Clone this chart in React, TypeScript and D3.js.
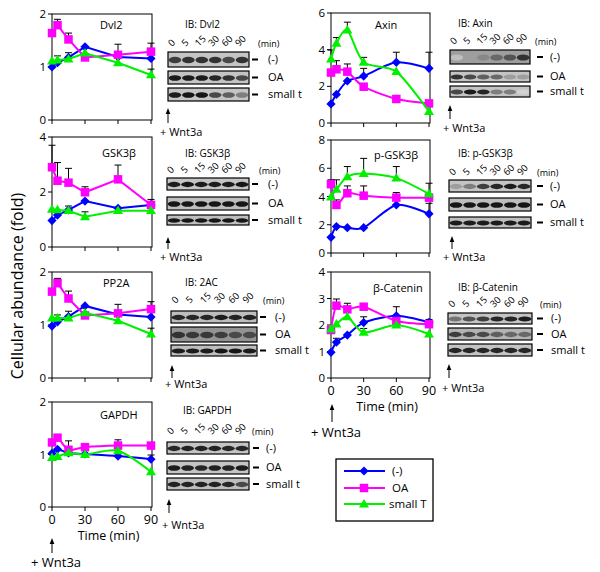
import * as d3 from "d3";

const times = [0, 5, 15, 30, 60, 90];
const xTicks = [0, 30, 60, 90];
const laneLabels = ["0", "5", "15", "30", "60", "90"];
const seriesNames = ["(-)", "OA", "small T"];
const seriesColors = ["#0000ff", "#ff00ff", "#00f000"];
const blotRowLabels = ["(-)", "OA", "small t"];

const ticks2 = [0, 1, 2];
const ticks4by2 = [0, 2, 4];
const ticks6 = [0, 2, 4, 6];
const ticks8 = [0, 2, 4, 6, 8];
const ticks4 = [0, 1, 2, 3, 4];

// rows: (-), OA, small t ; columns: times
const dvl2Values = [
  [1.0, 1.08, 1.18, 1.38, 1.19, 1.16],
  [1.64, 1.79, 1.52, 1.18, 1.23, 1.29],
  [1.11, 1.13, 1.15, 1.26, 1.08, 0.85],
];
const dvl2Errors = [
  [null, 1.21, null, null, null, null],
  [null, 1.9, 1.64, null, 1.43, 1.45],
  [null, null, 1.27, null, null, 0.96],
];
const gskValues = [
  [0.96, 1.16, 1.35, 1.67, 1.41, 1.53],
  [2.9, 2.41, 2.34, 1.99, 2.46, 1.53],
  [1.37, 1.35, 1.32, 1.1, 1.32, 1.32],
];
const gskErrors = [
  [null, null, 1.49, null, null, 1.73],
  [3.7, 3.07, 2.86, 2.19, 2.98, null],
  [null, null, null, 1.28, null, null],
];
const pp2aValues = [
  [0.98, 1.06, 1.16, 1.36, 1.2, 1.15],
  [1.63, 1.79, 1.5, 1.18, 1.22, 1.3],
  [1.13, 1.13, 1.13, 1.23, 1.08, 0.83],
];
const pp2aErrors = [
  [null, 1.19, null, null, null, null],
  [null, 1.88, 1.64, null, 1.39, 1.44],
  [null, null, 1.26, null, null, 0.94],
];
const gapdhValues = [
  [1.02, 1.1, 1.03, 1.01, 0.97, 0.91],
  [1.23, 1.32, 1.09, 1.14, 1.17, 1.17],
  [0.94, 0.96, 1.03, 1.0, 1.07, 0.67],
];
const gapdhErrors = [
  [null, null, null, null, null, 0.99],
  [null, null, 1.26, null, 1.28, null],
  [null, null, null, null, null, null],
];
const axinValues = [
  [1.04, 1.56, 2.29, 2.56, 3.31, 2.98],
  [2.75, 2.93, 2.8, 1.98, 1.31, 1.07],
  [3.49, 4.35, 5.07, 3.31, 2.8, 0.62],
];
const axinErrors = [
  [null, null, null, 2.98, 3.86, 3.86],
  [null, 3.4, 3.22, null, null, null],
  [3.98, 4.66, 5.5, 3.58, null, 0.9],
];
const pgskValues = [
  [1.11, 1.87, 1.79, 1.79, 3.4, 2.77],
  [4.87, 3.4, 4.23, 4.06, 3.92, 3.92],
  [3.95, 4.5, 5.4, 5.63, 5.3, 4.18],
];
const pgskErrors = [
  [null, null, null, null, 4.28, 3.52],
  [5.18, 3.76, 4.75, 4.75, null, null],
  [null, 5.18, 6.12, 6.7, 6.12, 4.94],
];
const bcatValues = [
  [0.97, 1.35, 1.62, 2.09, 2.35, 2.1],
  [1.81, 2.73, 2.59, 2.69, 2.15, 2.03],
  [1.85, 2.03, 2.31, 1.72, 2.0, 1.66],
];
const bcatErrors = [
  [null, 1.5, null, 2.31, 2.69, 2.21],
  [null, 2.98, 2.82, null, null, null],
  [null, null, null, 1.87, null, null],
];

// band darkness per lane (0 = none, 1 = black)
const dvl2Bands = [
  [0.75, 0.8, 0.8, 0.8, 0.7, 0.8],
  [0.9, 0.9, 0.9, 0.85, 0.8, 0.7],
  [0.9, 0.95, 0.95, 0.7, 0.6, 0.45],
];
const gskBands = [
  [0.9, 0.92, 0.9, 0.9, 0.9, 0.92],
  [0.92, 0.92, 0.92, 0.92, 0.92, 0.92],
  [0.92, 0.92, 0.92, 0.92, 0.92, 0.92],
];
const pp2aBands = [
  [0.85, 0.85, 0.85, 0.9, 0.88, 0.88],
  [0.8, 0.78, 0.78, 0.75, 0.7, 0.7],
  [0.9, 0.9, 0.9, 0.92, 0.92, 0.9],
];
const gapdhBands = [
  [0.85, 0.88, 0.88, 0.88, 0.85, 0.85],
  [0.9, 0.88, 0.85, 0.88, 0.88, 0.9],
  [0.88, 0.88, 0.88, 0.88, 0.85, 0.7],
];
const axinBands = [
  [0.15, 0.3, 0.4, 0.55, 0.65, 0.8],
  [0.8, 0.7, 0.6, 0.55, 0.3, 0.3],
  [0.7, 0.9, 0.85, 0.45, 0.45, 0.05],
];
const pgskBands = [
  [0.3, 0.45, 0.75, 0.85, 0.9, 0.85],
  [0.92, 0.92, 0.92, 0.92, 0.92, 0.92],
  [0.9, 0.9, 0.9, 0.9, 0.9, 0.9],
];
const bcatBands = [
  [0.5, 0.65, 0.75, 0.85, 0.85, 0.9],
  [0.75, 0.7, 0.7, 0.6, 0.55, 0.55],
  [0.85, 0.85, 0.85, 0.85, 0.85, 0.85],
];

const FONT = "'Open Sans', 'DejaVu Sans', sans-serif";

type BlotLayout = {
  ib: string;
  bands: number[][];
  bg: number[];
  x0: number;
  x1: number;
  rows: [number, number][];
  ibX: number;
  ibY: number;
  laneY: number;
  minX: number;
  dashX: number;
  labelX: number;
  arrowX: number;
  arrowY: [number, number];
  wntX: number;
  wntY: number;
};

type Panel = {
  title: string;
  values: number[][];
  errors: (number | null)[][];
  yMax: number;
  yTicks: number[];
  x0: number;
  x1: number;
  y0: number;
  y1: number;
  titleX: number;
  titleY: number;
  smooth: boolean;
  bottom: boolean;
  blot: BlotLayout;
};

const panels: Panel[] = [
  {
    title: "Dvl2", values: dvl2Values, errors: dvl2Errors, yMax: 2, yTicks: ticks2,
    x0: 52, x1: 151, y0: 14, y1: 120, titleX: 100, titleY: 29, smooth: false, bottom: false,
    blot: {
      ib: "IB: Dvl2", bands: dvl2Bands, bg: [0.12, 0.12, 0.12], x0: 168, x1: 249,
      rows: [[52, 67], [71, 84], [88, 101]], ibX: 185, ibY: 28, laneY: 47, minX: 258,
      dashX: 252, labelX: 268, arrowX: 168, arrowY: [108, 123], wntX: 160, wntY: 136,
    },
  },
  {
    title: "GSK3β", values: gskValues, errors: gskErrors, yMax: 4, yTicks: ticks4by2,
    x0: 52, x1: 151, y0: 137, y1: 247, titleX: 102, titleY: 157, smooth: false, bottom: false,
    blot: {
      ib: "IB: GSK3β", bands: gskBands, bg: [0.12, 0.15, 0.15], x0: 167, x1: 249,
      rows: [[178, 190], [197, 210], [215, 225]], ibX: 185, ibY: 157, laneY: 174, minX: 259,
      dashX: 252, labelX: 268, arrowX: 168, arrowY: [237, 249], wntX: 160, wntY: 261,
    },
  },
  {
    title: "PP2A", values: pp2aValues, errors: pp2aErrors, yMax: 2, yTicks: ticks2,
    x0: 52, x1: 151, y0: 272, y1: 378, titleX: 103, titleY: 287, smooth: false, bottom: false,
    blot: {
      ib: "IB: 2AC", bands: pp2aBands, bg: [0.15, 0.35, 0.15], x0: 171, x1: 257,
      rows: [[311, 323], [327, 342], [345, 356]], ibX: 185, ibY: 286, laneY: 304, minX: 263,
      dashX: 260, labelX: 275, arrowX: 172, arrowY: [365, 378], wntX: 165, wntY: 388,
    },
  },
  {
    title: "GAPDH", values: gapdhValues, errors: gapdhErrors, yMax: 2, yTicks: ticks2,
    x0: 52, x1: 151, y0: 402, y1: 507, titleX: 100, titleY: 419, smooth: true, bottom: true,
    blot: {
      ib: "IB: GAPDH", bands: gapdhBands, bg: [0.12, 0.12, 0.15], x0: 167, x1: 249,
      rows: [[442, 454], [461, 474], [478, 490]], ibX: 183, ibY: 414, laneY: 435, minX: 252,
      dashX: 253, labelX: 266, arrowX: 169, arrowY: [499, 513], wntX: 162, wntY: 529,
    },
  },
  {
    title: "Axin", values: axinValues, errors: axinErrors, yMax: 6, yTicks: ticks6,
    x0: 331, x1: 429, y0: 13, y1: 123, titleX: 375, titleY: 29, smooth: true, bottom: false,
    blot: {
      ib: "IB: Axin", bands: axinBands, bg: [0.3, 0.12, 0.12], x0: 450, x1: 530,
      rows: [[50, 64], [71, 82], [86, 97]], ibX: 458, ibY: 27, laneY: 45, minX: 535,
      dashX: 537, labelX: 550, arrowX: 450, arrowY: [105, 119], wntX: 443, wntY: 132,
    },
  },
  {
    title: "p-GSK3β", values: pgskValues, errors: pgskErrors, yMax: 8, yTicks: ticks8,
    x0: 331, x1: 429, y0: 140, y1: 253, titleX: 374, titleY: 159, smooth: true, bottom: false,
    blot: {
      ib: "IB: p-GSK3β", bands: pgskBands, bg: [0.12, 0.15, 0.15], x0: 449, x1: 531,
      rows: [[180, 192], [198, 211], [217, 228]], ibX: 458, ibY: 157, laneY: 176, minX: 537,
      dashX: 537, labelX: 550, arrowX: 452, arrowY: [236, 249], wntX: 443, wntY: 261,
    },
  },
  {
    title: "β-Catenin", values: bcatValues, errors: bcatErrors, yMax: 4, yTicks: ticks4,
    x0: 331, x1: 429, y0: 272, y1: 378, titleX: 373, titleY: 292, smooth: true, bottom: true,
    blot: {
      ib: "IB:  β-Catenin", bands: bcatBands, bg: [0.12, 0.2, 0.12], x0: 448, x1: 532,
      rows: [[313, 324], [328, 340], [344, 356]], ibX: 458, ibY: 291, laneY: 308, minX: 540,
      dashX: 537, labelX: 551, arrowX: 449, arrowY: [364, 378], wntX: 442, wntY: 392,
    },
  },
];

function Marker({ kind, x, y, color }: { kind: number; x: number; y: number; color: string }) {
  if (kind === 0) {
    const r = 4.6;
    return <path d={`M${x},${y - r}L${x + r},${y}L${x},${y + r}L${x - r},${y}Z`} fill={color} />;
  }
  if (kind === 1) {
    const s = 8.5;
    return <rect x={x - s / 2} y={y - s / 2} width={s} height={s} fill={color} />;
  }
  const w = 5, h = 8.5;
  return <path d={`M${x},${y - h * 0.6}L${x + w},${y + h * 0.4}L${x - w},${y + h * 0.4}Z`} fill={color} />;
}

function Arrow({ x, y0, y1 }: { x: number; y0: number; y1: number }) {
  return (
    <g>
      <line x1={x} x2={x} y1={y0 + 4} y2={y1} stroke="#000" strokeWidth={1} />
      <path d={`M${x},${y0}L${x + 2.3},${y0 + 6}L${x - 2.3},${y0 + 6}Z`} fill="#000" />
    </g>
  );
}

function Blot({ b }: { b: BlotLayout }) {
  const lane = d3.scaleBand<string>().domain(laneLabels).range([b.x0, b.x1]).paddingInner(0.06).paddingOuter(0.05);
  const shade = d3.interpolateRgb("#dedede", "#080808");
  return (
    <g fontFamily={FONT}>
      <text x={b.ibX} y={b.ibY} fontSize={10}>{b.ib}</text>
      {laneLabels.map((l) => {
        const cx = lane(l)! + lane.bandwidth() / 2;
        return (
          <text key={l} x={0} y={0} fontSize={9.5}
            transform={`translate(${cx - 3},${b.laneY}) rotate(-45)`}>{l}</text>
        );
      })}
      <text x={b.minX} y={b.laneY} fontSize={9}>(min)</text>
      {b.rows.map(([t, bt], ri) => {
        const mid = (t + bt) / 2;
        const h = bt - t;
        return (
          <g key={ri}>
            <rect x={b.x0} y={t} width={b.x1 - b.x0} height={h} fill={shade(b.bg[ri])} />
            <g filter="url(#blur)">
              {b.bands[ri].map((d, li) => {
                const x = lane(laneLabels[li])!;
                return (
                  <ellipse key={li} cx={x + lane.bandwidth() / 2} cy={mid + 0.5}
                    rx={lane.bandwidth() / 2} ry={Math.max(1.8, h * 0.22)} fill={shade(d)} />
                );
              })}
            </g>
            <rect x={b.x0} y={t} width={b.x1 - b.x0} height={h} fill="none" stroke="#000" strokeWidth={1.2} />
            <line x1={b.dashX} x2={b.dashX + 6} y1={mid} y2={mid} stroke="#000" strokeWidth={2} />
            <text x={b.labelX} y={mid + 3.5} fontSize={11}>{blotRowLabels[ri]}</text>
          </g>
        );
      })}
      <Arrow x={b.arrowX} y0={b.arrowY[0]} y1={b.arrowY[1]} />
      <text x={b.wntX} y={b.wntY} fontSize={11}>+ Wnt3a</text>
    </g>
  );
}

function Chart({ p }: { p: Panel }) {
  const x = d3.scaleLinear().domain([0, 90]).range([p.x0, p.x1]);
  const y = d3.scaleLinear().domain([0, p.yMax]).range([p.y1, p.y0]);
  const line = d3.line<number>()
    .x((_, i) => x(times[i]))
    .y((v) => y(v))
    .curve(p.smooth ? d3.curveCardinal.tension(0.2) : d3.curveLinear);
  return (
    <g fontFamily={FONT}>
      <rect x={p.x0} y={p.y0} width={p.x1 - p.x0 + 1} height={p.y1 - p.y0} fill="none" stroke="#000" strokeWidth={1} />
      {p.yTicks.map((t) => (
        <g key={t}>
          <line x1={p.x0 - 4} x2={p.x0} y1={y(t)} y2={y(t)} stroke="#000" />
          <text x={p.x0 - 6} y={y(t) + 4} fontSize={11.5} textAnchor="end">{t}</text>
        </g>
      ))}
      {xTicks.map((t) => (
        <line key={t} x1={x(t)} x2={x(t)} y1={p.y1} y2={p.y1 + 4} stroke="#000" />
      ))}
      {p.bottom && xTicks.map((t) => (
        <text key={t} x={x(t)} y={p.y1 + 17} fontSize={12.5} textAnchor="middle">{t}</text>
      ))}
      {p.bottom && (
        <text x={(p.x0 + p.x1) / 2 + 7} y={p.y1 + 33} fontSize={12.5} textAnchor="middle">Time (min)</text>
      )}
      <text x={p.titleX} y={p.titleY} fontSize={11}>{p.title}</text>
      {p.values.map((vals, si) => (
        <g key={si}>
          {p.errors[si].map((e, i) =>
            e == null ? null : (
              <g key={i}>
                <line x1={x(times[i])} x2={x(times[i])} y1={y(vals[i])} y2={y(e)} stroke="#000" strokeWidth={1} />
                <line x1={x(times[i]) - 3.5} x2={x(times[i]) + 3.5} y1={y(e)} y2={y(e)} stroke="#000" strokeWidth={1} />
              </g>
            )
          )}
        </g>
      ))}
      {p.values.map((vals, si) => (
        <g key={si}>
          <path d={line(vals) ?? ""} fill="none" stroke={seriesColors[si]} strokeWidth={2} />
          {vals.map((v, i) => (
            <Marker key={i} kind={si} x={x(times[i])} y={y(v)} color={seriesColors[si]} />
          ))}
        </g>
      ))}
      <Blot b={p.blot} />
    </g>
  );
}

export default function App() {
  const legendY = [471, 488, 504];
  return (
    <svg width={600} height={572} style={{ position: "absolute", left: 0, top: 0, background: "#fff" }}>
      <defs>
        <filter id="blur" x="-20%" y="-50%" width="140%" height="200%">
          <feGaussianBlur stdDeviation="0.7" />
        </filter>
      </defs>
      {panels.map((p) => (
        <Chart key={p.title} p={p} />
      ))}
      <text transform="translate(23,286) rotate(-90)" fontSize={16} textAnchor="middle" fontFamily={FONT}>
        Cellular abundance  (fold)
      </text>
      <g fontFamily={FONT}>
        <Arrow x={52} y0={538} y1={553} />
        <text x={31} y={567} fontSize={13}>+  Wnt3a</text>
        <Arrow x={332} y0={404} y1={422} />
        <text x={311} y={437} fontSize={13}>+  Wnt3a</text>
      </g>
      <g fontFamily={FONT}>
        <rect x={336} y={459} width={97} height={62} fill="none" stroke="#000" strokeWidth={1.3} />
        {seriesNames.map((n, i) => (
          <g key={n}>
            <line x1={344} x2={385} y1={legendY[i]} y2={legendY[i]} stroke={seriesColors[i]} strokeWidth={2} />
            <Marker kind={i} x={364} y={legendY[i]} color={seriesColors[i]} />
            <text x={i === 2 ? 389 : 392} y={legendY[i] + 4} fontSize={11.5}>{n}</text>
          </g>
        ))}
      </g>
    </svg>
  );
}
